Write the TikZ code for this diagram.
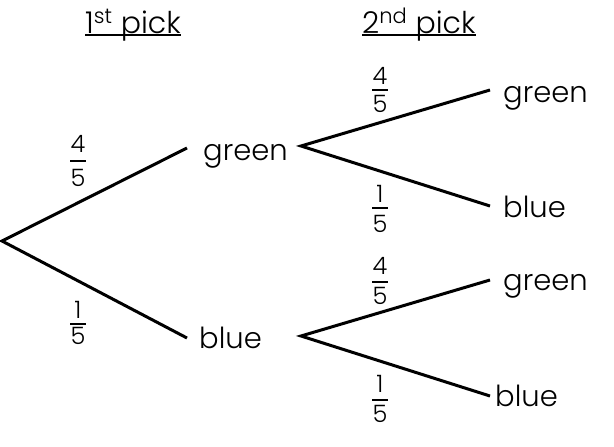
\documentclass[tikz,border=0pt]{standalone}
\usepackage{fontspec}
\setmainfont{Poppins}[UprightFont=* Light]
\newcommand\frc[7]{%
  \node[fnum, anchor=base] (#1n) at (#2,#3) {#6};
  \node[fnum, anchor=base] (#1d) at (#2,#5) {#7};
  \draw[fbar] (#2-8,#4) -- (#2+8,#4);}
\begin{document}
\begin{tikzpicture}[x=1pt,y=-1pt,
  branch/.style={line width=3pt},
  lbl/.style={font=\fontsize{29}{31}\selectfont, inner sep=0pt, anchor=base west},
  fnum/.style={font=\fontsize{24}{26}\selectfont, inner sep=0pt},
  fbar/.style={line width=2.2pt},
  hdr/.style={font=\fontsize{30}{32}\selectfont, inner sep=0pt, anchor=base west},
  uline/.style={line width=2pt}]
\useasboundingbox (0,0) rectangle (614,447);
% headers
\node[hdr] (h1) at (85,33) {1\textsuperscript{st} pick};
\node[hdr] (h2) at (362,33) {2\textsuperscript{nd} pick};
\draw[uline] ([yshift=-2pt]h1.base west) -- ([yshift=-2pt]h1.base east);
\draw[uline] ([yshift=-2pt]h2.base west) -- ([yshift=-2pt]h2.base east);
% branch points
\coordinate (root) at (2,241);
\coordinate (e1) at (187,148);
\coordinate (e2) at (187,338);
\coordinate (s1) at (301,146);
\coordinate (s2) at (301,336);
\coordinate (t1) at (490,90);
\coordinate (t2) at (490,206);
\coordinate (t3) at (490,280);
\coordinate (t4) at (490,396);
\draw[branch] (e1) -- (root) -- (e2);
\draw[branch] (t1) -- (s1) -- (t2);
\draw[branch] (t3) -- (s2) -- (t4);
% labels
\node[lbl] (g1) at (203,160) {green};
\node[lbl] (b1) at (199,348) {blue};
\node[lbl] (g2) at (503,102) {green};
\node[lbl] (b2) at (503,217) {blue};
\node[lbl] (g3) at (503,290) {green};
\node[lbl] (b3) at (495,406) {blue};
% fractions
\frc{fa}{78}{152}{161}{186}{4}{5}
\frc{fb}{78}{318}{324}{344}{1}{5}
\frc{fc}{380}{84}{90}{112}{4}{5}
\frc{fd}{380}{202}{208}{232}{1}{5}
\frc{fe}{380}{274}{282}{304}{4}{5}
\frc{ff}{380}{392}{400}{422}{1}{5}
\end{tikzpicture}
\end{document}
